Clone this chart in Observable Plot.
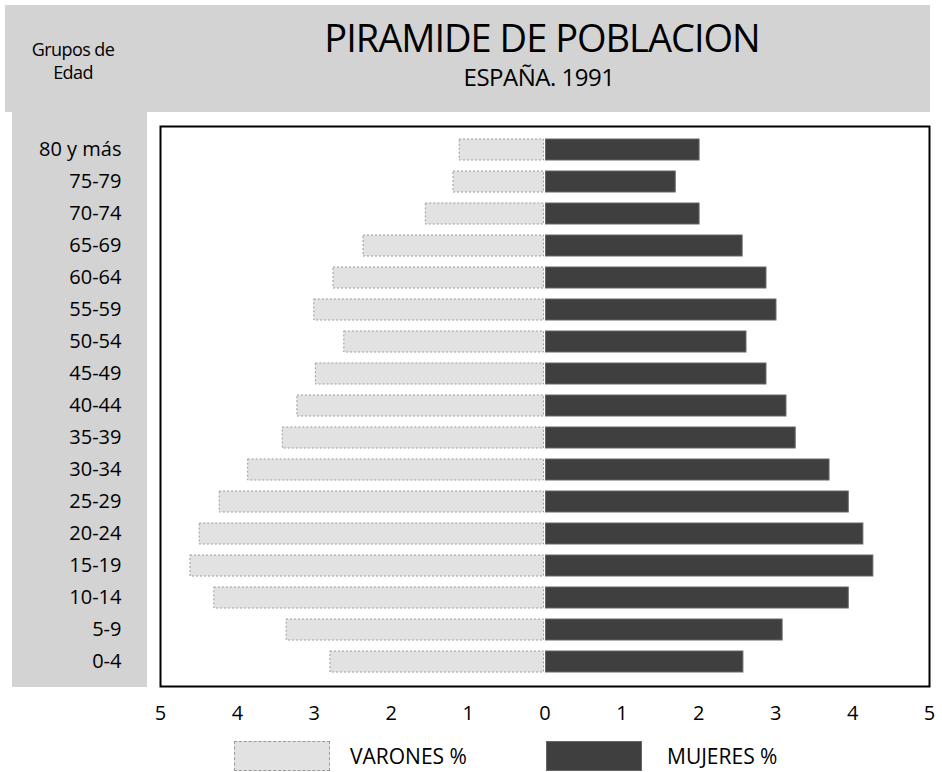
<!DOCTYPE html>
<html>
<head>
<meta charset="utf-8">
<script src="https://cdn.jsdelivr.net/npm/d3@7"></script>
<script src="https://cdn.jsdelivr.net/npm/@observablehq/plot@0.6"></script>
<style>
  html, body { margin: 0; padding: 0; background: white; }
  #wrap { position: relative; width: 942px; height: 772px; overflow: hidden; font-family: "Open Sans", sans-serif; color: #000; }
  .band { position: absolute; background: #d3d3d3; }
  .txt { position: absolute; white-space: nowrap; }
  #chart { position: absolute; left: 0; top: 112px; }
  .sw { position: absolute; top: 741px; width: 96px; height: 30px; box-sizing: border-box; }
</style>
</head>
<body>
<div id="wrap">
  <div class="band" style="left:5px;top:5px;width:925px;height:107px;"></div>
  <div class="band" style="left:12px;top:112px;width:135px;height:575px;"></div>
  <div class="txt" id="title" style="left:0;width:1084px;top:17px;height:40px;line-height:40px;text-align:center;font-size:38px;letter-spacing:-1px;">PIRAMIDE DE POBLACION</div>
  <div class="txt" id="subtitle" style="left:0;width:1078px;top:64px;height:26px;line-height:26px;text-align:center;font-size:24px;letter-spacing:-0.5px;">ESPAÑA. 1991</div>
  <div class="txt" style="left:28px;width:90px;top:38px;text-align:center;font-size:18px;line-height:23px;letter-spacing:-0.6px;">Grupos de<br>Edad</div>
  <div id="chart"></div>
  <div class="sw" style="left:234px;background:#e2e2e2;border:1px dashed #9a9a9a;"></div>
  <div class="txt" style="left:350px;top:742px;font-size:21px;">VARONES %</div>
  <div class="sw" style="left:546px;background:#3f3f3f;border:1px solid #666;"></div>
  <div class="txt" style="left:667px;top:742px;font-size:21px;">MUJERES %</div>
</div>
<script>
const groups = ["80 y más","75-79","70-74","65-69","60-64","55-59","50-54","45-49","40-44","35-39","30-34","25-29","20-24","15-19","10-14","5-9","0-4"];
const varones = [1.11, 1.19, 1.55, 2.36, 2.75, 3.00, 2.61, 2.98, 3.22, 3.41, 3.86, 4.23, 4.49, 4.61, 4.30, 3.36, 2.79];
const mujeres = [2.01, 1.70, 2.01, 2.57, 2.88, 3.01, 2.62, 2.88, 3.14, 3.26, 3.70, 3.95, 4.14, 4.27, 3.95, 3.09, 2.58];
const xTicks = [-5, -4, -3, -2, -1, 0, 1, 2, 3, 4, 5];

const data = groups.map((g, i) => ({grupo: g, varones: varones[i], mujeres: mujeres[i]}));

const plot = Plot.plot({
  width: 942,
  height: 618,
  marginLeft: 160,
  marginRight: 13,
  marginTop: 14,
  marginBottom: 44,
  style: {fontFamily: "Open Sans, sans-serif", fontSize: "20px", background: "transparent", color: "black", overflow: "visible"},
  x: {domain: [-5, 5], ticks: xTicks, tickFormat: d => Math.abs(d), tickSize: 0, tickPadding: 19, label: null},
  y: {domain: groups, range: [10, 577], padding: 0.34, tickSize: 0, tickPadding: 39, label: null},
  marks: [
    Plot.rectX(data, {y: "grupo", x1: 0, x2: d => -d.varones, fill: "#e2e2e2", stroke: "#9a9a9a", strokeDasharray: "2,2", strokeWidth: 1, insetRight: 1}),
    Plot.rectX(data, {y: "grupo", x1: 0, x2: "mujeres", fill: "#3f3f3f", stroke: "#666", strokeWidth: 1, insetLeft: 1}),
    Plot.frame({stroke: "black", strokeWidth: 2})
  ]
});
document.getElementById("chart").appendChild(plot);
</script>
</body>
</html>
